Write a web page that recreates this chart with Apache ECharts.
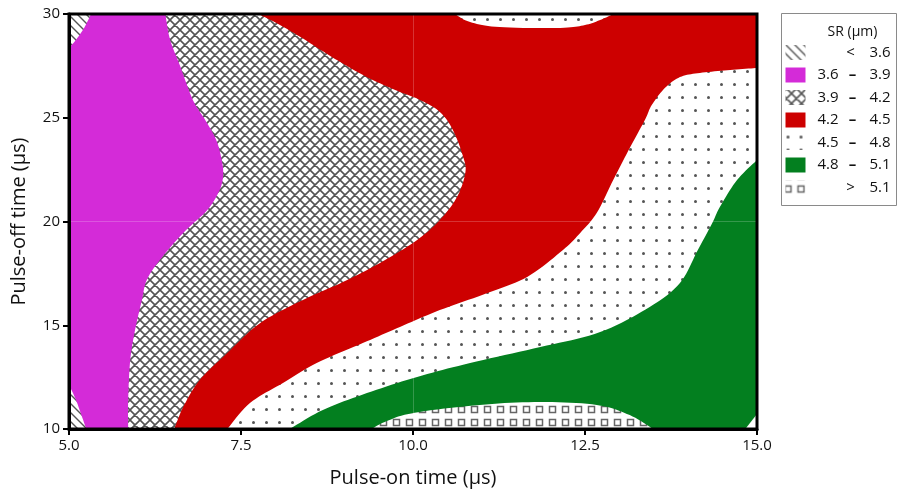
<!DOCTYPE html>
<html><head><meta charset="utf-8">
<script src="https://cdn.jsdelivr.net/npm/echarts@6/dist/echarts.min.js"></script>
<style>html,body{margin:0;padding:0;background:#fff}#c{width:898px;height:498px}</style>
</head><body><div id="c"></div>
<script>
// ---- axes / levels ----
const xTicks = [5, 7.5, 10, 12.5, 15];
const yTicks = [10, 15, 20, 25, 30];
const levels = [3.6, 3.9, 4.2, 4.5, 4.8, 5.1];
const xTitle = 'Pulse-on time (µs)';
const yTitle = 'Pulse-off time (µs)';
const legendTitle = 'SR (µm)';

// ---- contour boundaries: [pulse-on, pulse-off] ----
const hatchTopLeft = [[5.32,30],[5.22,29.33],[5.10,28.75],[5.0,28.36]];
const hatchBottomLeft = [[5.0,12.12],[5.09,11.49],[5.17,10.77],[5.25,10]];
const magentaRight = [[6.40,30],[6.47,28.75],[6.61,27.54],[6.80,25.86],[6.98,24.89],[7.14,23.93],[7.22,22.96],[7.24,22.24],[7.19,21.52],[7.01,20.55],[6.66,19.45],[6.32,18.14],[6.13,17.18],[6.06,16.22],[5.96,14.77],[5.89,13.33],[5.86,11.40],[5.86,10]];
const redLeft = [[7.75,30],[8.04,29.52],[8.39,28.84],[8.82,27.93],[9.30,27.01],[9.74,26.34],[10.10,25.86],[10.39,25.28],[10.58,24.41],[10.73,23.11],[10.76,22.34],[10.64,21.18],[10.39,20.07],[10.06,19.11],[9.52,18.0],[8.98,17.08],[8.40,16.22],[7.78,15.11],[7.30,13.66],[6.90,12.36],[6.66,11.06],[6.53,10]];
const redRight = [[7.30,10],[7.63,11.25],[8.11,12.22],[8.60,13.18],[9.27,14.14],[9.81,14.92],[10.39,15.73],[11.08,16.55],[11.66,17.33],[12.18,18.63],[12.43,19.45],[12.67,20.41],[12.91,22.0],[13.15,23.54],[13.37,24.89],[13.47,25.61],[13.66,26.43],[13.88,26.96],[14.17,27.16],[14.61,27.30],[15,27.40]];
const topGap = [[10.61,30],[10.83,29.61],[11.26,29.37],[12.14,29.33],[12.5,29.47],[12.72,29.71],[12.91,30]];
const greenTop = [[8.21,10],[8.69,10.92],[9.33,11.73],[10.06,12.51],[10.83,13.18],[11.85,13.95],[12.72,14.67],[13.44,15.88],[13.88,17.04],[14.14,18.63],[14.35,19.93],[14.46,20.70],[14.71,22.0],[15,22.96]];
const squaresTop = [[9.40,10],[9.59,10.34],[10.0,10.77],[10.97,11.16],[11.85,11.30],[12.67,11.16],[13.15,10.67],[13.49,10]];
const cornerBottomRight = [[14.83,10],[15,10.72]];

// ---- patterns ----
function mk(size, draw){
  const c = document.createElement('canvas'); c.width = size; c.height = size;
  const g = c.getContext('2d'); g.fillStyle = '#fff'; g.fillRect(0,0,size,size);
  draw(g, size); return {image: c, repeat: 'repeat'};
}
const PC = '#555';
const hatch = mk(9, (g,s)=>{ g.strokeStyle=PC; g.lineWidth=1.4; g.beginPath();
  for (const o of [-s,0,s]) { g.moveTo(o-1,-1); g.lineTo(o+s+1,s+1); } g.stroke(); });
const cross = mk(10, (g,s)=>{ g.strokeStyle=PC; g.lineWidth=1.6; g.beginPath();
  for (const o of [-s,0,s]) { g.moveTo(o-1,-1); g.lineTo(o+s+1,s+1); g.moveTo(o-1,s+1); g.lineTo(o+s+1,-1); } g.stroke(); });
const dots = mk(13, (g,s)=>{ g.fillStyle='#555'; g.beginPath(); g.arc(6.5,6.5,1.5,0,Math.PI*2); g.fill(); });
const squares = mk(13, (g,s)=>{ g.strokeStyle='#666'; g.lineWidth=1.5; g.strokeRect(3.5,3.5,6,6); });
const fills = [hatch, '#d42bd8', cross, '#cd0000', dots, '#037f1f', squares];

const X0 = xTicks[0], X1 = xTicks[xTicks.length-1], Y0 = yTicks[0], Y1 = yTicks[yTicks.length-1];
const regions = [
  {band:4, curve:[], tail:[[X0,Y0],[X1,Y0],[X1,Y1],[X0,Y1]]},
  {band:3, curve:redRight, tail:[[X1,Y1],[X0,Y1],[X0,Y0]]},
  {band:4, curve:topGap, tail:[]},
  {band:2, curve:redLeft, tail:[[X0,Y0],[X0,Y1]]},
  {band:1, curve:magentaRight, tail:[[X0,Y0],[X0,Y1]]},
  {band:0, curve:hatchTopLeft, tail:[[X0,Y1]]},
  {band:0, curve:hatchBottomLeft, tail:[[X0,Y0]]},
  {band:5, curve:greenTop, tail:[[X1,Y0]]},
  {band:6, curve:squaresTop, tail:[]},
  {band:4, curve:cornerBottomRight, tail:[[X1,Y0]]}
];

function smoothPts(p){
  if (p.length < 3) return p.slice();
  const out = [];
  for (let i=0;i<p.length-1;i++){
    const p0=p[Math.max(i-1,0)], p1=p[i], p2=p[i+1], p3=p[Math.min(i+2,p.length-1)];
    for (let k=0;k<10;k++){
      const t=k/10, t2=t*t, t3=t2*t;
      const f = j => 0.5*((2*p1[j])+(-p0[j]+p2[j])*t+(2*p0[j]-5*p1[j]+4*p2[j]-p3[j])*t2+(-p0[j]+3*p1[j]-3*p2[j]+p3[j])*t3);
      out.push([f(0), f(1)]);
    }
  }
  out.push(p[p.length-1]);
  return out;
}

function renderItem(params, api){
  const r = regions[params.dataIndex];
  const pts = smoothPts(r.curve.map(p=>api.coord(p))).concat(r.tail.map(p=>api.coord(p)));
  return {type:'polygon', shape:{points: pts}, style:{fill: fills[r.band], stroke: null}};
}

// ---- legend ----
const FONT = 'Open Sans';
const legendRows = [];
legendRows.push(['<', '', levels[0]]);
for (let i=0;i<levels.length-1;i++) legendRows.push([levels[i], '–', levels[i+1]]);
legendRows.push(['>', '', levels[levels.length-1]]);
const legendChildren = [
  {type:'rect', shape:{x:0,y:0,width:115,height:192}, style:{fill:'#fff', stroke:'#8a8a8a', lineWidth:1}},
  {type:'text', x:71, y:19, style:{text:legendTitle, font:'14px "'+FONT+'"', fill:'#111', align:'center', verticalAlign:'middle'}}
];
legendRows.forEach((row,i)=>{
  const cy = 39 + i*22.5;
  legendChildren.push({type:'rect', shape:{x:4,y:cy-7.5,width:20,height:15}, style:{fill: fills[i]}});
  const tf = '15px "'+FONT+'"';
  if (row[1] === '') {
    legendChildren.push({type:'text', x:69, y:cy, style:{text:row[0], font:tf, fill:'#111', align:'center', verticalAlign:'middle'}});
  } else {
    legendChildren.push({type:'text', x:57, y:cy, style:{text:row[0].toFixed(1), font:tf, fill:'#111', align:'right', verticalAlign:'middle'}});
    legendChildren.push({type:'text', x:71, y:cy, style:{text:row[1], font:'bold 15px "'+FONT+'"', fill:'#111', align:'center', verticalAlign:'middle'}});
  }
  legendChildren.push({type:'text', x:109, y:cy, style:{text:row[2].toFixed(1), font:tf, fill:'#111', align:'right', verticalAlign:'middle'}});
});

const chart = echarts.init(document.getElementById('c'), null, {renderer:'canvas'});
chart.setOption({
  animation:false,
  textStyle:{fontFamily:FONT},
  grid:{left:69, right:141, top:14, bottom:69, show:true, borderColor:'#000', borderWidth:3, backgroundColor:'transparent', z:10},
  xAxis:{type:'value', min:X0, max:X1, interval:2.5, z:10,
    name:xTitle, nameLocation:'middle', nameGap:39,
    nameTextStyle:{fontSize:20, color:'#111', fontFamily:FONT, fontWeight:500},
    axisLine:{lineStyle:{color:'#000', width:3}},
    axisTick:{length:6, lineStyle:{color:'#000', width:2}},
    axisLabel:{fontSize:15, color:'#111', margin:9, formatter:v=>v.toFixed(1)},
    splitLine:{show:false}},
  yAxis:{type:'value', min:Y0, max:Y1, interval:5, z:10,
    name:yTitle, nameLocation:'middle', nameGap:40,
    nameTextStyle:{fontSize:20, color:'#111', fontFamily:FONT, fontWeight:500},
    axisLine:{lineStyle:{color:'#000', width:3}},
    axisTick:{length:6, lineStyle:{color:'#000', width:2}},
    axisLabel:{fontSize:15, color:'#111', margin:9},
    splitLine:{show:false}},
  series:[
    {type:'custom', renderItem, clip:true, silent:true, z:2,
     encode:{x:0, y:1}, data: regions.map(()=>[X0, Y0])},
    {type:'line', data:[], silent:true, z:3,
     markLine:{silent:true, symbol:'none', label:{show:false}, animation:false,
       lineStyle:{color:'rgba(255,255,255,0.2)', width:1, type:'solid'},
       data:[{xAxis:xTicks[2]},{yAxis:yTicks[2]}]}}
  ],
  graphic:[{type:'group', left:781, top:13, children:legendChildren}]
});
</script></body></html>
